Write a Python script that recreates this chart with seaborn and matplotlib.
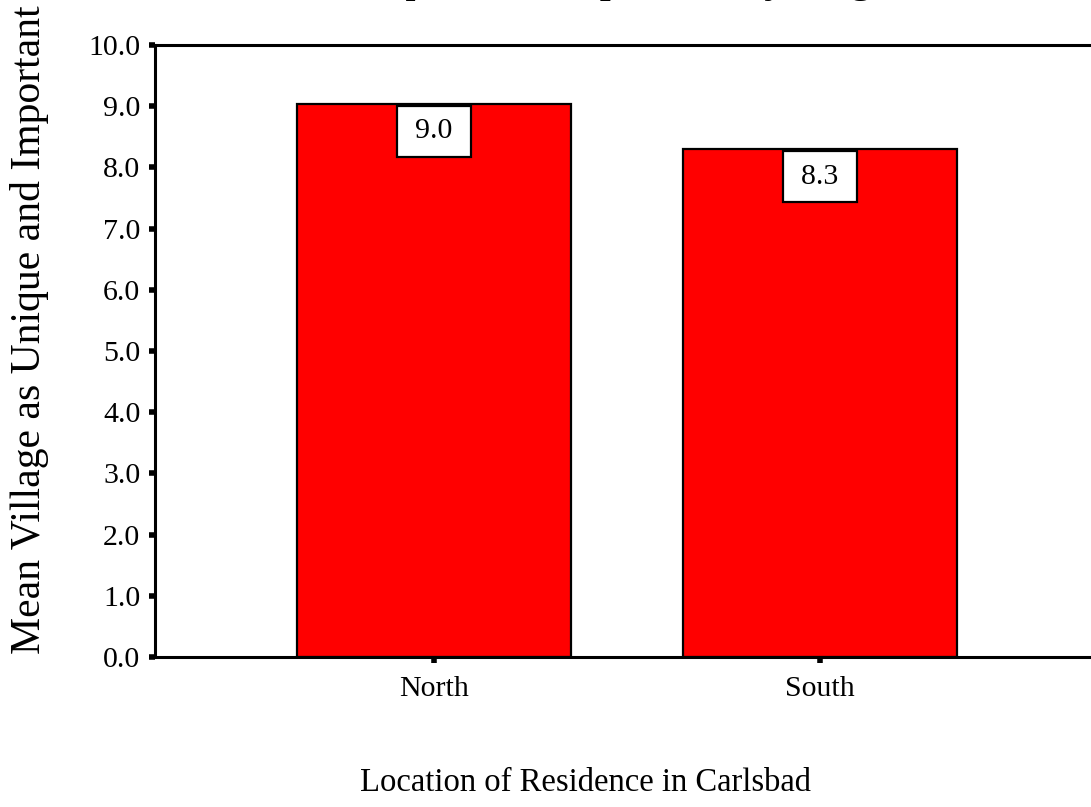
import matplotlib
matplotlib.use("Agg")
import matplotlib.pyplot as plt
import seaborn as sns
import pandas as pd

# Mean rating of the village as unique and important, by region of residence
regions = ["North", "South"]
mean_scores = [9.04, 8.30]
y_ticks = [0.0, 1.0, 2.0, 3.0, 4.0, 5.0, 6.0, 7.0, 8.0, 9.0, 10.0]

title_text = "Unique and Important by Region"
x_title = "Location of Residence in Carlsbad"
y_title = "Mean Village as Unique and Important"

sns.set_theme(style="white")
plt.rcParams["font.family"] = ["Liberation Serif", "DejaVu Serif"]

W, H = 1091, 807
fig = plt.figure(figsize=(W / 100, H / 100), dpi=100)
fig.patch.set_facecolor("white")
ax = fig.add_axes([155 / W, (H - 657) / H, 944 / W, 612 / H])

df = pd.DataFrame({"region": regions, "mean": mean_scores})
sns.barplot(data=df, x="region", y="mean", color="#ff0000", saturation=1,
            width=0.71, edgecolor="black", linewidth=1.6, ax=ax)

ax.set_xlim(-0.723, 1.723)
ax.set_ylim(0, 10)
ax.set_yticks(y_ticks)
ax.set_yticklabels([f"{t:.1f}" for t in y_ticks])
ax.set_xlabel("")
ax.set_ylabel("")
ax.grid(False)

for side in ["left", "bottom", "top", "right"]:
    ax.spines[side].set_visible(True)
    ax.spines[side].set_color("black")
    ax.spines[side].set_linewidth(2.2)

ax.tick_params(axis="both", which="major", direction="out", bottom=True, left=True,
               length=4, width=4, color="black", labelcolor="black",
               labelsize=21.5)
ax.tick_params(axis="y", pad=6.5)
ax.tick_params(axis="x", pad=10)

# value boxes just inside the top of each bar
for i, v in enumerate(mean_scores):
    ax.annotate(f"\u2009{v:.1f}\u2009", xy=(i, v), xytext=(0, -10.5),
                textcoords="offset points", ha="center", va="top",
                fontsize=21.5, color="black",
                bbox=dict(boxstyle="square,pad=0.42", facecolor="white",
                          edgecolor="black", linewidth=1.6))

fig.text(628 / W, 1 + 9 / H, title_text, ha="center", va="baseline",
         fontsize=33, color="black")
fig.text(586 / W, 1 - 783 / H, x_title, ha="center", va="center",
         fontsize=23.5, color="black")
fig.text(30 / W, 1 - 330 / H, y_title, ha="center", va="center",
         rotation=90, fontsize=30, color="black")

fig.savefig("out.png", dpi=100, facecolor="white")
